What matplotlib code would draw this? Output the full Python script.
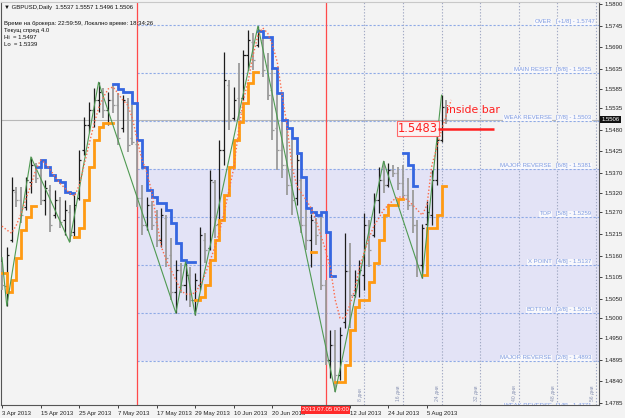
import numpy as np
import pandas as pd
import matplotlib
matplotlib.use('Agg')
import matplotlib.pyplot as plt
import matplotlib.transforms as mtransforms

# ---------------- data ----------------
dates = pd.bdate_range('2013-04-03', '2013-08-09')  # daily bars

ohlc = [
    (1.5123, 1.5144, 1.5072, 1.5085), (1.5082, 1.5182, 1.5032, 1.5161),
    (1.5199, 1.5360, 1.5194, 1.5327), (1.5322, 1.5334, 1.5283, 1.5301),
    (1.5301, 1.5334, 1.5243, 1.5263), (1.5283, 1.5360, 1.5276, 1.5352),
    (1.5347, 1.5411, 1.5319, 1.5390), (1.5390, 1.5395, 1.5344, 1.5357),
    (1.5365, 1.5383, 1.5289, 1.5301), (1.5301, 1.5352, 1.5263, 1.5332),
    (1.5327, 1.5339, 1.5220, 1.5238), (1.5263, 1.5327, 1.5255, 1.5301),
    (1.5301, 1.5309, 1.5230, 1.5245), (1.5250, 1.5301, 1.5212, 1.5276),
    (1.5271, 1.5289, 1.5194, 1.5212), (1.5220, 1.5314, 1.5205, 1.5289),
    (1.5306, 1.5428, 1.5301, 1.5403), (1.5428, 1.5512, 1.5416, 1.5492),
    (1.5492, 1.5551, 1.5474, 1.5530), (1.5530, 1.5586, 1.5487, 1.5556),
    (1.5556, 1.5601, 1.5525, 1.5576), (1.5576, 1.5586, 1.5510, 1.5530),
    (1.5530, 1.5576, 1.5492, 1.5556), (1.5556, 1.5594, 1.5523, 1.5543),
    (1.5543, 1.5573, 1.5441, 1.5459), (1.5484, 1.5568, 1.5474, 1.5556),
    (1.5551, 1.5561, 1.5423, 1.5441), (1.5459, 1.5543, 1.5441, 1.5450),
    (1.5445, 1.5450, 1.5283, 1.5306), (1.5306, 1.5339, 1.5212, 1.5238),
    (1.5238, 1.5309, 1.5225, 1.5289), (1.5289, 1.5300, 1.5225, 1.5238),
    (1.5245, 1.5276, 1.5182, 1.5199), (1.5199, 1.5281, 1.5182, 1.5263),
    (1.5255, 1.5263, 1.5131, 1.5154), (1.5161, 1.5205, 1.5047, 1.5067),
    (1.5067, 1.5149, 1.5014, 1.5123), (1.5123, 1.5141, 1.5065, 1.5085),
    (1.5085, 1.5144, 1.5047, 1.5110), (1.5110, 1.5131, 1.5029, 1.5047),
    (1.5047, 1.5116, 1.5009, 1.5098), (1.5085, 1.5233, 1.5072, 1.5212),
    (1.5199, 1.5217, 1.5141, 1.5174), (1.5179, 1.5378, 1.5174, 1.5352),
    (1.5347, 1.5352, 1.5205, 1.5238), (1.5240, 1.5454, 1.5235, 1.5428),
    (1.5428, 1.5678, 1.5390, 1.5606), (1.5594, 1.5606, 1.5479, 1.5505),
    (1.5510, 1.5589, 1.5505, 1.5556), (1.5560, 1.5650, 1.5505, 1.5525),
    (1.5560, 1.5683, 1.5555, 1.5670), (1.5670, 1.5734, 1.5632, 1.5708),
    (1.5703, 1.5726, 1.5632, 1.5657), (1.5696, 1.5744, 1.5690, 1.5734),
    (1.5708, 1.5716, 1.5614, 1.5632), (1.5645, 1.5675, 1.5556, 1.5568),
    (1.5581, 1.5637, 1.5454, 1.5479), (1.5484, 1.5568, 1.5378, 1.5428),
    (1.5428, 1.5500, 1.5357, 1.5390), (1.5390, 1.5484, 1.5314, 1.5339),
    (1.5339, 1.5455, 1.5263, 1.5301), (1.5306, 1.5418, 1.5289, 1.5403),
    (1.5352, 1.5355, 1.5217, 1.5238), (1.5238, 1.5276, 1.5174, 1.5199),
    (1.5199, 1.5265, 1.5131, 1.5250), (1.5245, 1.5255, 1.5187, 1.5212),
    (1.5263, 1.5265, 1.5072, 1.5085), (1.5085, 1.5098, 1.4881, 1.4894),
    (1.4894, 1.4971, 1.4848, 1.4932), (1.4932, 1.4971, 1.4813, 1.4856),
    (1.4856, 1.4978, 1.4843, 1.4958), (1.4990, 1.5217, 1.4975, 1.5120),
    (1.5120, 1.5192, 1.4976, 1.5060), (1.5060, 1.5123, 1.5054, 1.5098),
    (1.5098, 1.5149, 1.5054, 1.5123), (1.5110, 1.5268, 1.5072, 1.5238),
    (1.5238, 1.5250, 1.5131, 1.5174), (1.5212, 1.5319, 1.5207, 1.5301),
    (1.5301, 1.5385, 1.5268, 1.5352), (1.5352, 1.5400, 1.5319, 1.5339),
    (1.5339, 1.5395, 1.5334, 1.5378), (1.5378, 1.5390, 1.5360, 1.5370),
    (1.5370, 1.5385, 1.5327, 1.5344), (1.5344, 1.5390, 1.5301, 1.5314),
    (1.5314, 1.5357, 1.5276, 1.5289), (1.5289, 1.5327, 1.5217, 1.5238),
    (1.5238, 1.5250, 1.5105, 1.5136), (1.5136, 1.5240, 1.5103, 1.5230),
    (1.5240, 1.5300, 1.5235, 1.5270), (1.5263, 1.5378, 1.5238, 1.5352),
    (1.5352, 1.5479, 1.5339, 1.5454), (1.5454, 1.5568, 1.5450, 1.5537),
    (1.5537, 1.5557, 1.5496, 1.5506),
]

# trailing step lines: (first bar index, values)
blue_segments = [
    (7, [1.5385, 1.5403, 1.5385, 1.5365, 1.5352, 1.5347, 1.5322, 1.5319]),
    (23, [1.5596, 1.5584, 1.5576, 1.5576, 1.5548, 1.5454, 1.5385, 1.5327,
          1.5309, 1.5294, 1.5294, 1.5276, 1.5243, 1.5192, 1.5149, 1.5144, 1.5144]),
    (53, [1.5731, 1.5716, 1.5716, 1.5637, 1.5573, 1.5505, 1.5484, 1.5459,
          1.5421, 1.5360, 1.5281, 1.5271, 1.5263, 1.5271, 1.5220, 1.5108]),
    (83, [1.5421, 1.5390, 1.5337]),
]
orange_segments = [
    (0, [1.5116, 1.5067, 1.5098, 1.5154, 1.5225, 1.5258, 1.5286]),
    (15, [1.5207, 1.5230, 1.5301, 1.5385, 1.5454, 1.5487, 1.5497, 1.5497]),
    (40, [1.5047, 1.5054, 1.5085, 1.5149, 1.5199, 1.5250, 1.5314, 1.5385,
          1.5454, 1.5500, 1.5548, 1.5599, 1.5627]),
    (64, [1.5169]),
    (69, [1.4838, 1.4838, 1.4881, 1.4971, 1.5029, 1.5047, 1.5047, 1.5093,
          1.5141, 1.5199, 1.5263, 1.5289, 1.5289, 1.5304]),
    (87, [1.5110, 1.5230, 1.5230, 1.5263, 1.5337]),
]

ma_values = [1.5235, 1.5225, 1.5217, 1.5238, 1.5268, 1.5306, 1.5339, 1.5378, 1.5403, 1.5395,
             1.5378, 1.5360, 1.5344, 1.5332, 1.5319, 1.5311, 1.5339, 1.5390, 1.5441, 1.5492,
             1.5535, 1.5563, 1.5584, 1.5589, 1.5573, 1.5556, 1.5543, 1.5510, 1.5454, 1.5403,
             1.5372, 1.5322, 1.5250, 1.5182, 1.5149, 1.5123, 1.5098, 1.5072, 1.5062, 1.5062,
             1.5065, 1.5085, 1.5110, 1.5144, 1.5179, 1.5220, 1.5268, 1.5327, 1.5383, 1.5479,
             1.5556, 1.5606, 1.5670, 1.5721, 1.5739, 1.5726, 1.5696, 1.5652, 1.5568, 1.5492,
             1.5390, 1.5339, 1.5319, 1.5301, 1.5281, 1.5250, 1.5212, 1.5174, 1.5128, 1.5047,
             1.5001, 1.5001, 1.5034, 1.5072, 1.5128, 1.5169, 1.5205, 1.5235, 1.5255, 1.5276,
             1.5289, 1.5301, 1.5309, 1.5309, 1.5301, 1.5289, 1.5276, 1.5263, 1.5289, 1.5390,
             1.5434, 1.5479, 1.5517, 1.5556]

zigzag_idx = [0, 1, 6, 14, 20, 36, 38, 40, 53, 69, 79, 87, 91]
zigzag_val = [1.5155, 1.5032, 1.5411, 1.5194, 1.5601, 1.5014, 1.5144, 1.5009,
              1.5744, 1.4813, 1.5400, 1.5103, 1.5568]

murrey_names = ['OVER', 'MAIN RESIST', 'WEAK REVERSE', 'MAJOR REVERSE', 'TOP',
                'X POINT', 'BOTTOM', 'MAJOR REVERSE', 'WEAK REVERSE']
murrey_tags = ['[+1/8]', '[8/8]', '[7/8]', '[6/8]', '[5/8]', '[4/8]', '[3/8]', '[2/8]', '[1/8]']
murrey_levels = [1.5747, 1.5625, 1.5503, 1.5381, 1.5259, 1.5137, 1.5015, 1.4893, 1.4771]

price_ticks = [1.5800, 1.5745, 1.5690, 1.5635, 1.5585, 1.5535, 1.5480, 1.5425, 1.5370,
               1.5320, 1.5270, 1.5215, 1.5160, 1.5105, 1.5050, 1.5000, 1.4950, 1.4895,
               1.4840, 1.4785]

bid_price = 1.5506
red_line_bars = [28, 67]
cycle_days = [8, 16, 24, 32, 40, 48, 56]
marked_price = 1.5483
header = '\u25bc GBPUSD,Daily  1.5537 1.5557 1.5496 1.5506'
info_lines = ['Време на брокера: 22:59:59, Локално време: 18:34:26',
              'Текущ спред 4.0', 'Hi  = 1.5497', 'Lo  = 1.5339']

# ---------------- figure ----------------
W, H = 625, 418
fig = plt.figure(figsize=(W / 100, H / 100), dpi=100)
fig.patch.set_facecolor('#f3f3f3')
ax = fig.add_axes([1 / W, 13 / H, 598 / W, 403 / H])
ax.set_facecolor('#f3f3f3')
XMAX = 123.6
ax.set_xlim(-0.2, XMAX)
ax.set_ylim(1.47799, 1.58051)

small = dict(family=['Liberation Sans', 'DejaVu Sans'], fontsize=4.3)

# murrey shaded zone
ax.fill_between([red_line_bars[0], XMAX], murrey_levels[7], murrey_levels[3],
                color='#e3e3f6', zorder=0, lw=0)

# bid line
ax.axhline(bid_price, color='#b8b8b8', lw=0.8, zorder=1)

# murrey lines and labels
tr = mtransforms.blended_transform_factory(ax.transAxes, ax.transData)
for name, tag, lev in zip(murrey_names, murrey_tags, murrey_levels):
    ax.hlines(lev, red_line_bars[0], XMAX, colors='#8eaae6', lw=0.8,
              linestyles=(0, (2.0, 1.6)), zorder=1)
    ax.text(0.921, lev + 0.0001, name, transform=tr, ha='right', va='bottom',
            color='#7e9be0', clip_on=True, zorder=2,
            bbox=dict(facecolor='#f8f8fc', edgecolor='none', pad=0.3), **small)
    ax.text(0.928, lev + 0.0001, f'{tag} - {lev:.4f}', transform=tr, ha='left',
            va='bottom', color='#7e9be0', clip_on=True, zorder=2,
            bbox=dict(facecolor='#f8f8fc', edgecolor='none', pad=0.3), **small)

# time cycle lines
for d in cycle_days:
    xb = red_line_bars[1] + d
    ax.axvline(xb, color='#a2aac4', lw=0.8, ls=(0, (1.2, 1.6)), zorder=1)
    ax.text(xb - 0.3, 1.4790, f'{d} дни', rotation=90, ha='right', va='bottom',
            color='#8a94b4', family=['Liberation Sans', 'DejaVu Sans'], fontsize=3.6,
            zorder=2)

# red vertical lines
for xb in red_line_bars:
    ax.axvline(xb, color='#ff4a4a', lw=0.9, zorder=1)

# bars
arr = np.array(ohlc)
o, h, l, c = arr[:, 0], arr[:, 1], arr[:, 2], arr[:, 3]
idx = np.arange(len(arr))
bull = c >= o
for mask, col, lw in [(bull, '#1c1c1c', 0.9), (~bull, '#9a9a9a', 1.3)]:
    ax.vlines(idx[mask], l[mask], h[mask], colors=col, lw=lw, zorder=3)
    ax.hlines(o[mask], idx[mask] - 0.42, idx[mask], colors=col, lw=0.9, zorder=3)
    ax.hlines(c[mask], idx[mask], idx[mask] + 0.42, colors=col, lw=0.9, zorder=3)


def step_xy(start, vals):
    n = len(vals)
    xs = np.repeat(np.arange(start, start + n + 1), 2)[1:-1]
    ys = np.repeat(vals, 2)
    return xs, ys


for s, v in blue_segments:
    xs, ys = step_xy(s, v)
    ax.plot(xs, ys, color='#3566e0', lw=2.0, zorder=4, solid_joinstyle='miter')
for s, v in orange_segments:
    xs, ys = step_xy(s, v)
    ax.plot(xs, ys, color='#ff9a12', lw=2.0, zorder=4, solid_joinstyle='miter')

# zigzag
ax.plot(zigzag_idx, zigzag_val, color='#4f9a52', lw=0.8, zorder=5)

# dotted moving average
ax.plot(np.arange(len(ma_values)), ma_values, color='#ff6a48', lw=1.0,
        ls=(0, (1.0, 1.5)), zorder=5)

# annotations
ax.text(82.0, marked_price, f'{marked_price:.4f}', color='#ff2020', fontsize=8.3,
        family=['DejaVu Sans'], ha='left', va='center', zorder=7,
        bbox=dict(facecolor='#fbf3f3', edgecolor='#ff6a6a', pad=0.6, lw=0.8))
ax.hlines(marked_price, 90.3, 101.8, colors='#ff2020', lw=1.8, zorder=7)
ax.text(91.9, 1.5530, 'inside bar', color='#ff2020', fontsize=7.8,
        family=['DejaVu Sans'], ha='left', va='center', zorder=7)

# axes styling
for sp in ax.spines.values():
    sp.set_color('#555555')
    sp.set_linewidth(0.8)
ax.spines['top'].set_color('#c8c8c8')
ax.yaxis.tick_right()
ax.set_yticks(price_ticks)
ax.set_yticklabels([f'{p:.4f}' for p in price_ticks])
ax.tick_params(axis='y', length=2.5, width=0.6, pad=1.5, colors='#222222',
               labelsize=4.3)
for t in ax.get_yticklabels():
    t.set_family(['Liberation Sans', 'DejaVu Sans'])

xt = list(range(0, len(dates), 8))
ax.set_xticks(xt)
# the tick nearest the red time label is covered by it in the chart
ax.set_xticklabels(['' if abs(k - red_line_bars[1]) < 4 else
                    f'{d.day} {d.strftime("%b %Y")}' for k, d in zip(xt, dates[xt])])
ax.tick_params(axis='x', length=2.5, width=0.6, pad=1.5, colors='#222222',
               labelsize=4.3)
for t in ax.get_xticklabels():
    t.set_family(['Liberation Sans', 'DejaVu Sans'])
    t.set_ha('left')

# current price box on right axis
trp = mtransforms.blended_transform_factory(ax.transAxes, ax.transData)
ax.text(1.004, bid_price, f'{bid_price:.4f}', transform=trp, ha='left', va='center',
        color='white', clip_on=False, zorder=8,
        bbox=dict(facecolor='#111111', edgecolor='none', pad=0.8), **small)

# red date label on x axis
trx = mtransforms.blended_transform_factory(ax.transData, ax.transAxes)
d5 = dates[red_line_bars[1]]
ax.text(red_line_bars[1], -0.006, d5.strftime('%Y.%m.%d 00:00'), transform=trx,
        ha='center', va='top', color='white', clip_on=False, zorder=8,
        bbox=dict(facecolor='#ff2a2a', edgecolor='none', pad=0.8), **small)

# header texts
fig.text(4 / W, 1 - 7 / H, header, ha='left', va='center', color='#111111', **small)
for k, line in enumerate(info_lines):
    fig.text(4 / W, 1 - (23 + k * 7.3) / H, line, ha='left', va='center',
             color='#111111', **small)

fig.savefig('out.png', dpi=100, facecolor=fig.get_facecolor())
